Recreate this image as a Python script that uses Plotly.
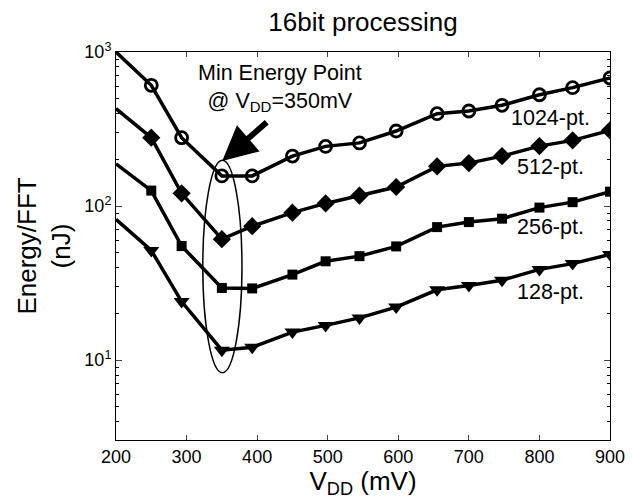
import plotly.graph_objects as go
import math

vdd = [200, 250, 293, 350, 393, 450, 497, 545, 597, 655, 700, 747, 800, 847, 900]
e1024 = [1000, 608, 278, 157, 157, 211, 244, 257, 307, 398, 414, 451, 528, 587, 678]
e512 = [429, 278, 121, 61, 74, 90.6, 104, 117, 133, 181, 190, 211, 245, 267, 310]
e256 = [188, 126, 55, 29.4, 29.2, 35.9, 43.8, 47.3, 54.7, 73, 78.7, 82.8, 97.7, 106, 124]
e128 = [82, 51.5, 24.0, 11.6, 12.1, 15.2, 16.8, 18.8, 22.1, 28.6, 30.5, 33.0, 38.8, 42.3, 48.5]

series_names = ["1024-pt.", "512-pt.", "256-pt.", "128-pt."]
x_ticks = [200, 300, 400, 500, 600, 700, 800, 900]
y_ticks = [10, 100, 1000]
y_ticktext = ["10<sup>1</sup>", "10<sup>2</sup>", "10<sup>3</sup>"]

FONT = "Liberation Sans, Arial, sans-serif"

fig = go.Figure()

styles = [
    (e1024, "circle-open", 12, 2.8),
    (e512, "diamond", 14, 0),
    (e256, "square", 10, 0),
    (e128, "triangle-down", 14, 0),
]
for (vals, sym, sz, lw), name in zip(styles, series_names):
    fig.add_trace(go.Scatter(
        x=vdd, y=vals, mode="lines+markers", name=name,
        line=dict(color="black", width=3.5),
        marker=dict(symbol=sym, size=sz, color="black",
                    opacity=[0] + [1] * (len(vals) - 1),
                    line=dict(color="black", width=lw)),
        showlegend=False, cliponaxis=True,
    ))

# minor tick positions on log axis
minor_y = [m * 10 ** d for d in range(0, 3) for m in range(2, 10) if 3 <= m * 10 ** d <= 1000]

fig.update_layout(
    width=633, height=499,
    margin=dict(l=116, r=23, t=52, b=59, autoexpand=False),
    paper_bgcolor="white", plot_bgcolor="white",
    font=dict(family=FONT, color="black", size=18),
    title=dict(text="16bit processing", x=0.5, xanchor="center", xref="paper",
               y=1 - 22 / 499, yanchor="middle", yref="container",
               font=dict(size=26, family=FONT)),
    xaxis=dict(range=[200, 900], tickvals=x_ticks, ticks="inside", ticklen=5,
               showline=True, linecolor="black", linewidth=1, mirror="ticks",
               showgrid=False, zeroline=False, automargin=False,
               tickfont=dict(size=18),
               title=dict(text="V<sub>DD</sub> (mV)", font=dict(size=26), standoff=2)),
    yaxis=dict(type="log", range=[math.log10(3.03), 3], tickvals=y_ticks, ticktext=y_ticktext,
               ticks="inside", ticklen=6, automargin=False,
               showline=True, linecolor="black", linewidth=1, mirror="ticks",
               showgrid=False, zeroline=False,
               tickfont=dict(size=18),
               minor=dict(tickvals=minor_y, ticks="inside", ticklen=3, tickcolor="black", showgrid=False),
               title=dict(text="Energy/FFT<br>(nJ)", font=dict(size=26), standoff=6)),
)

# ellipse around minimum energy points
fig.add_shape(type="circle", xref="x", yref="y",
              x0=323, x1=378.5, y0=8.28, y1=198,
              line=dict(color="black", width=1.5), fillcolor="rgba(0,0,0,0)")

# arrow pointing at ellipse
fig.add_annotation(x=350.5, y=math.log10(196), xref="x", yref="y",
                   ax=46, ay=-40, axref="pixel", ayref="pixel",
                   showarrow=True, arrowhead=2, arrowwidth=6, arrowsize=1.15,
                   arrowcolor="black", standoff=0, text="")

fig.add_annotation(x=0.5, y=1, xref="paper", yref="paper",
                   text="Min Energy Point<br>@ V<sub>DD</sub>=350mV",
                   showarrow=False, xanchor="center", yanchor="top",
                   xshift=-83, yshift=-7, font=dict(size=21.5, family=FONT),
                   align="center")

# series labels
label_pos = [118, 167, 227, 292]
for name, py in zip(series_names, label_pos):
    fig.add_annotation(x=1, y=1, xref="paper", yref="paper", text=name,
                       showarrow=False, xanchor="center", yanchor="middle",
                       xshift=550 - 610, yshift=52 - py,
                       font=dict(size=21.5, family=FONT))

fig.write_html("out.html", config={"displayModeBar": False},
               post_script="document.body.style.margin='0';")
